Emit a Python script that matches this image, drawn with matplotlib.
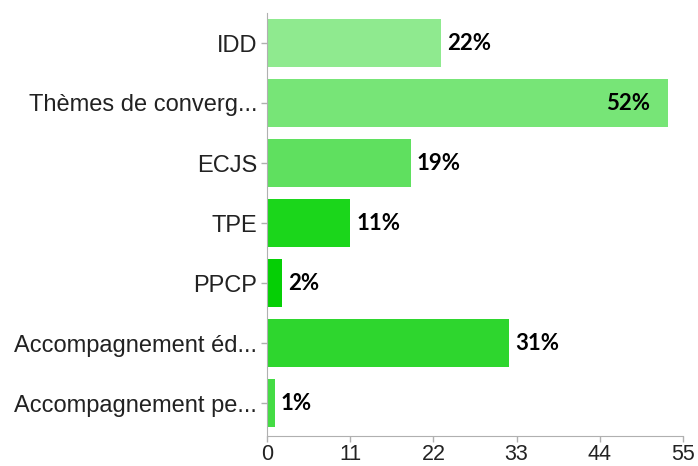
import matplotlib.pyplot as plt

# Données
categories = ["IDD", "Thèmes de converg...", "ECJS", "TPE", "PPCP",
              "Accompagnement éd...", "Accompagnement pe..."]
counts = [23, 53, 19, 11, 2, 32, 1]
percents = ["22%", "52%", "19%", "11%", "2%", "31%", "1%"]
colors = ["#8fea8f", "#77e577", "#5fe05f", "#1bd61b", "#05cf05", "#2ed62e", "#44dc44"]
xticks = [0, 11, 22, 33, 44, 55]

fig = plt.figure(figsize=(6.98, 4.66), dpi=100)
ax = fig.add_axes([267 / 698, 1 - 436 / 466, 416 / 698, 423 / 466])

y = list(range(len(categories)))
ax.barh(y, counts, height=0.8, color=colors, linewidth=0)

for yi, c, p in zip(y, counts, percents):
    if c > 45:
        ax.text(c - 2.3, yi, p, ha="right", va="center", fontsize=16,
                fontweight="bold", family="Lato", color="black")
    else:
        ax.text(c + 0.8, yi, p, ha="left", va="center", fontsize=16,
                fontweight="bold", family="Lato", color="black")

ax.set_xlim(0, 55)
ax.set_ylim(6.55, -0.5)
ax.set_xticks(xticks)
ax.set_yticks(y)
ax.set_yticklabels(categories)

for lab in ax.get_yticklabels():
    lab.set_family("Liberation Sans")
    lab.set_fontsize(17)
    lab.set_color("#222222")
for lab in ax.get_xticklabels():
    lab.set_family("Liberation Sans")
    lab.set_fontsize(15.5)
    lab.set_color("#222222")

ax.spines["top"].set_visible(False)
ax.spines["right"].set_visible(False)
ax.spines["left"].set_color("#b0b0b0")
ax.spines["bottom"].set_color("#b0b0b0")
ax.tick_params(axis="both", colors="#b0b0b0", length=4, width=1, labelcolor="#222222")
ax.tick_params(axis="x", pad=2)
ax.tick_params(axis="y", pad=3)

fig.savefig("out.png", dpi=100)
